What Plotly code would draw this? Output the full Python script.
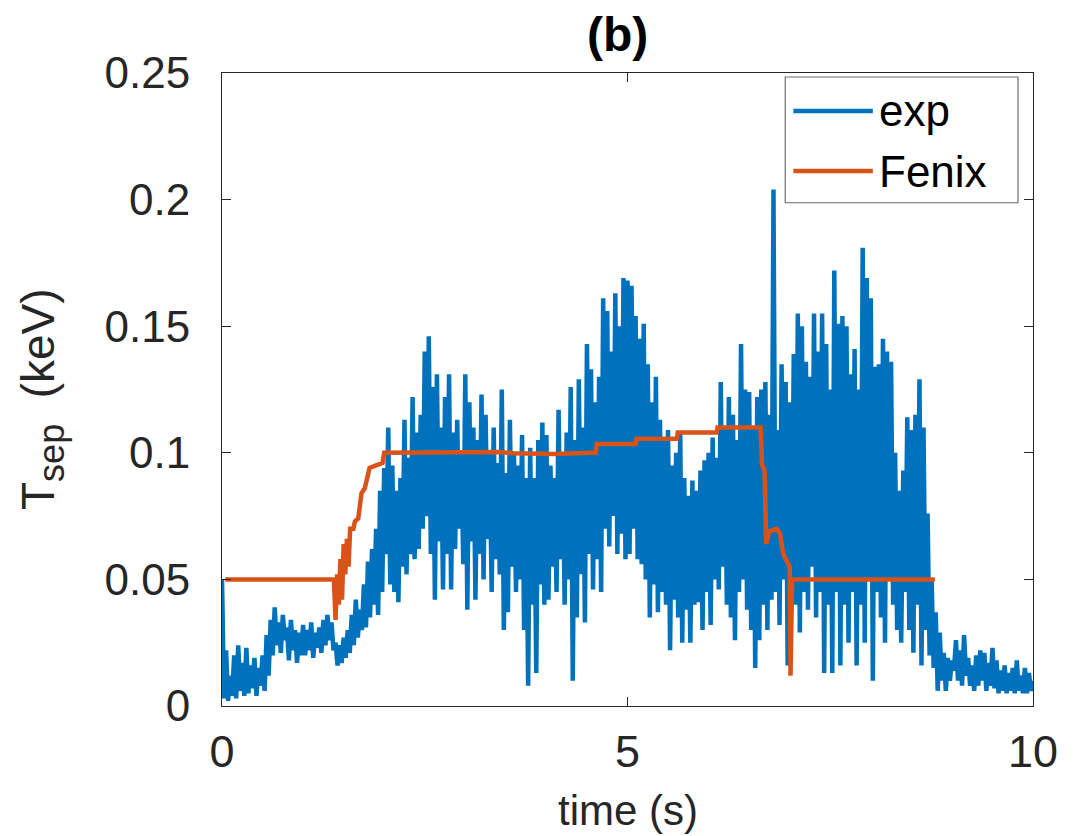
import plotly.graph_objects as go

# Measured separatrix temperature (keV), sampled every 0.025 s from 0 to 10 s
exp_dt = 0.025
exp_T = [
    # 0.0 - 0.475 s
    0.050, 0.003, 0.022, 0.002, 0.012, 0.004, 0.020, 0.003, 0.024, 0.006,
    0.017, 0.004, 0.023, 0.005, 0.016, 0.007, 0.019, 0.004, 0.015, 0.008,
    # 0.5 - 0.975 s
    0.020, 0.006, 0.028, 0.012, 0.034, 0.020, 0.039, 0.024, 0.033, 0.021,
    0.036, 0.026, 0.031, 0.018, 0.034, 0.022, 0.030, 0.017, 0.029, 0.020,
    # 1.0 - 1.475 s
    0.032, 0.020, 0.030, 0.022, 0.033, 0.019, 0.029, 0.023, 0.031, 0.021,
    0.034, 0.024, 0.036, 0.026, 0.033, 0.022, 0.025, 0.016, 0.024, 0.017,
    # 1.5 - 1.975 s
    0.027, 0.019, 0.030, 0.021, 0.036, 0.024, 0.042, 0.027, 0.038, 0.030,
    0.048, 0.031, 0.057, 0.035, 0.062, 0.040, 0.070, 0.036, 0.085, 0.045,
    # 2.0 - 2.475 s
    0.094, 0.060, 0.110, 0.048, 0.095, 0.045, 0.085, 0.041, 0.090, 0.055,
    0.113, 0.052, 0.098, 0.060, 0.122, 0.058, 0.108, 0.062, 0.115, 0.070,
    # 2.5 - 2.975 s
    0.140, 0.075, 0.146, 0.060, 0.126, 0.042, 0.131, 0.065, 0.110, 0.046,
    0.122, 0.060, 0.131, 0.046, 0.108, 0.062, 0.113, 0.070, 0.100, 0.056,
    # 3.0 - 3.475 s
    0.131, 0.038, 0.120, 0.065, 0.110, 0.042, 0.105, 0.060, 0.123, 0.050,
    0.115, 0.066, 0.100, 0.045, 0.110, 0.058, 0.096, 0.052, 0.125, 0.030,
    # 3.5 - 3.975 s
    0.092, 0.037, 0.113, 0.055, 0.100, 0.045, 0.095, 0.050, 0.107, 0.030,
    0.090, 0.008, 0.102, 0.040, 0.090, 0.013, 0.105, 0.048, 0.112, 0.040,
    # 4.0 - 4.475 s
    0.107, 0.042, 0.095, 0.055, 0.090, 0.045, 0.117, 0.058, 0.100, 0.040,
    0.108, 0.050, 0.126, 0.010, 0.105, 0.035, 0.129, 0.052, 0.110, 0.033,
    # 4.5 - 4.975 s
    0.143, 0.060, 0.133, 0.046, 0.120, 0.058, 0.130, 0.045, 0.161, 0.070,
    0.156, 0.063, 0.140, 0.075, 0.163, 0.060, 0.150, 0.068, 0.169, 0.058,
    # 5.0 - 5.475 s
    0.168, 0.060, 0.166, 0.070, 0.154, 0.058, 0.145, 0.056, 0.151, 0.050,
    0.135, 0.035, 0.120, 0.048, 0.130, 0.037, 0.113, 0.045, 0.105, 0.040,
    # 5.5 - 5.975 s
    0.109, 0.022, 0.095, 0.042, 0.100, 0.035, 0.108, 0.025, 0.090, 0.038,
    0.083, 0.025, 0.089, 0.040, 0.085, 0.041, 0.093, 0.030, 0.097, 0.045,
    # 6.0 - 6.475 s
    0.100, 0.032, 0.106, 0.050, 0.098, 0.046, 0.128, 0.055, 0.110, 0.040,
    0.122, 0.035, 0.115, 0.026, 0.105, 0.045, 0.143, 0.050, 0.125, 0.038,
    # 6.5 - 6.975 s
    0.124, 0.030, 0.110, 0.015, 0.122, 0.026, 0.125, 0.040, 0.128, 0.030,
    0.115, 0.042, 0.204, 0.045, 0.109, 0.032, 0.135, 0.050, 0.128, 0.016,
    # 7.0 - 7.475 s
    0.120, 0.050, 0.139, 0.040, 0.155, 0.029, 0.150, 0.045, 0.136, 0.038,
    0.130, 0.055, 0.155, 0.035, 0.140, 0.045, 0.155, 0.013, 0.143, 0.040,
    # 7.5 - 7.975 s
    0.125, 0.013, 0.172, 0.045, 0.151, 0.016, 0.154, 0.040, 0.150, 0.025,
    0.131, 0.045, 0.141, 0.016, 0.125, 0.040, 0.181, 0.025, 0.169, 0.050,
    # 8.0 - 8.475 s
    0.161, 0.010, 0.134, 0.045, 0.135, 0.035, 0.145, 0.025, 0.140, 0.050,
    0.136, 0.040, 0.100, 0.030, 0.085, 0.025, 0.093, 0.045, 0.114, 0.030,
    # 8.5 - 8.975 s
    0.109, 0.021, 0.115, 0.040, 0.129, 0.016, 0.110, 0.030, 0.076, 0.020,
    0.050, 0.015, 0.037, 0.006, 0.029, 0.010, 0.021, 0.006, 0.019, 0.010,
    # 9.0 - 9.475 s
    0.018, 0.014, 0.026, 0.010, 0.022, 0.008, 0.028, 0.012, 0.019, 0.008,
    0.016, 0.006, 0.020, 0.008, 0.022, 0.010, 0.021, 0.006, 0.017, 0.008,
    # 9.5 - 10.0 s
    0.023, 0.007, 0.018, 0.005, 0.014, 0.006, 0.016, 0.005, 0.013, 0.006,
    0.015, 0.005, 0.018, 0.006, 0.012, 0.005, 0.015, 0.005, 0.013, 0.006,
    0.010,
]
exp_t = [round(i * exp_dt, 3) for i in range(len(exp_T))]

# Fenix simulation result
fenix_t = [0.04, 1.38, 1.40, 1.42, 1.44, 1.46, 1.48, 1.50, 1.52, 1.54, 1.56,
           1.58, 1.62, 1.64, 1.68, 1.70, 1.72, 1.76, 1.78, 1.80, 1.82, 1.90,
           1.98, 2.00, 3.40, 3.60, 4.10, 4.55, 4.61, 4.62, 5.10, 5.11, 5.61,
           5.62, 6.10, 6.11, 6.64, 6.66, 6.69, 6.71, 6.75, 6.84, 6.88, 6.92,
           6.97, 7.00, 7.01, 7.03, 8.79]
fenix_T = [0.050, 0.050, 0.034, 0.052, 0.040, 0.058, 0.042, 0.064, 0.052,
           0.066, 0.055, 0.070, 0.070, 0.073, 0.074, 0.080, 0.084, 0.086,
           0.089, 0.092, 0.094, 0.095, 0.096, 0.100, 0.1003, 0.0998, 0.0995,
           0.1000, 0.1000, 0.1035, 0.1035, 0.1055, 0.1055, 0.108, 0.108,
           0.110, 0.110, 0.095, 0.093, 0.064, 0.069, 0.070, 0.068, 0.060,
           0.057, 0.055, 0.012, 0.050, 0.050]

series_names = ["exp", "Fenix"]
series_colors = ["#0072BD", "#D95319"]

x_ticks = [0, 5, 10]
y_ticks = [0, 0.05, 0.1, 0.15, 0.2, 0.25]
y_tick_text = ["0", "0.05", "0.1", "0.15", "0.2", "0.25"]

FONT = "Liberation Sans, Arial, Helvetica, sans-serif"
INK = "#262626"

fig = go.Figure()
fig.add_trace(go.Scatter(x=exp_t, y=exp_T, mode="lines", name=series_names[0],
                         line=dict(color=series_colors[0], width=4.5),
                         showlegend=False))
fig.add_trace(go.Scatter(x=fenix_t, y=fenix_T, mode="lines", name=series_names[1],
                         line=dict(color=series_colors[1], width=4.5),
                         showlegend=False))

axis_common = dict(showline=True, mirror="ticks", linecolor=INK, linewidth=1,
                   ticks="inside", ticklen=9, tickwidth=1, tickcolor=INK,
                   showgrid=False, zeroline=False)

fig.update_xaxes(range=[0, 10], tickvals=x_ticks, ticktext=[str(v) for v in x_ticks],
                 ticklabelstandoff=6,
                 tickfont=dict(family=FONT, size=45, color=INK), **axis_common)
fig.update_yaxes(range=[0, 0.25], tickvals=y_ticks, ticktext=y_tick_text,
                 ticklabelstandoff=22,
                 tickfont=dict(family=FONT, size=44, color=INK), **axis_common)

# Legend box drawn in MATLAB style
leg_x0, leg_x1 = 0.9815 - 0.287, 0.9815
leg_y0, leg_y1 = 0.795, 0.9937
fig.add_shape(type="rect", xref="paper", yref="paper", x0=leg_x0, x1=leg_x1,
              y0=leg_y0, y1=leg_y1, line=dict(color="#6e6e6e", width=1.2),
              fillcolor="white", layer="above")
legend_rows_y = [0.940, 0.845]
for name, color, ly in zip(series_names, series_colors, legend_rows_y):
    fig.add_shape(type="line", xref="paper", yref="paper",
                  x0=leg_x0 + 0.010, x1=leg_x0 + 0.108, y0=ly, y1=ly,
                  line=dict(color=color, width=4.5), layer="above")
    fig.add_annotation(xref="paper", yref="paper", x=leg_x0 + 0.113, y=ly,
                       text=name, showarrow=False, xanchor="left", yanchor="middle",
                       font=dict(family=FONT, size=44, color="black"))

# Title and axis labels
fig.add_annotation(xref="paper", yref="paper", x=0.488, y=1.0, yshift=39,
                   text="<b>(b)</b>", showarrow=False, xanchor="center",
                   yanchor="middle", font=dict(family=FONT, size=48, color="black"))
fig.add_annotation(xref="paper", yref="paper", x=0.5, y=0, yshift=-104,
                   text="time (s)", showarrow=False, xanchor="center",
                   yanchor="middle", font=dict(family=FONT, size=42, color=INK))
fig.add_annotation(xref="paper", yref="paper", x=0, xshift=-180, y=0.485,
                   text="T<sub><span style='font-size:36px'>sep</span></sub>  (keV)",
                   showarrow=False, textangle=-90,
                   xanchor="center", yanchor="middle",
                   font=dict(family=FONT, size=46, color=INK))

fig.update_layout(width=1079, height=836,
                  margin=dict(l=222, r=46, t=73, b=130),
                  paper_bgcolor="white", plot_bgcolor="white")

fig.write_html("out.html")
